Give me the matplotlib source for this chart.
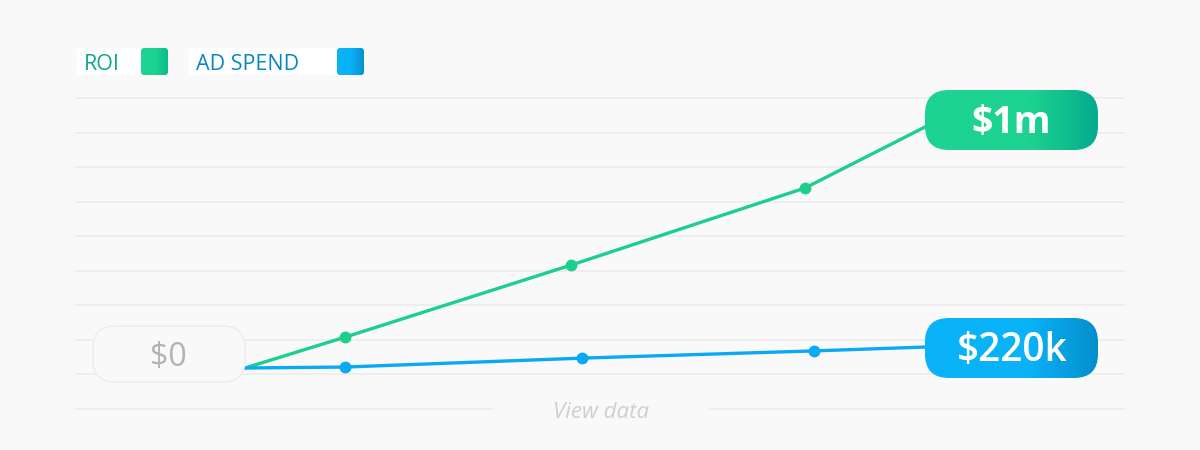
import matplotlib
matplotlib.use("Agg")
import matplotlib.pyplot as plt
import numpy as np
from matplotlib.patches import FancyBboxPatch

plt.rcParams["font.family"] = ["Open Sans", "DejaVu Sans"]

# values ($k), x in weeks-ish steps
roi_x = [0, 1.0, 3.26, 5.6, 6.8]
roi = [0, 128, 427, 747, 1000]
spend_x = [0, 1.0, 3.37, 5.69, 6.8]
spend = [0, 4, 41, 71, 87]
series_names = ["ROI", "AD SPEND"]
end_labels = ["$1m", "$220k"]
start_label = "$0"

green = "#1ccf8c"
blue = "#0aa9f3"
bg = "#f9f9f9"

fig = plt.figure(figsize=(12, 4.5), dpi=100)
fig.patch.set_facecolor(bg)

ax = fig.add_axes([0, 0, 1, 1])
ax.set_facecolor(bg)
ax.set_xlim(-2.45, 9.55)
ax.set_ylim(-340.2, 1527.0)
for s in ax.spines.values():
    s.set_visible(False)
ax.set_xticks([])
ax.set_yticks([])

# grid lines
grid_vals = np.linspace(-170, 1120, 10)
for i, g in enumerate(grid_vals):
    if i == 0:
        ax.hlines(g, -1.7, 2.48, color="#ececec", lw=1.2, zorder=1)
        ax.hlines(g, 4.63, 8.8, color="#ececec", lw=1.2, zorder=1)
    else:
        ax.hlines(g, -1.7, 8.8, color="#ececec", lw=1.2, zorder=1)

ax.plot(roi_x, roi, color=green, lw=2.4, marker="o", ms=7.5,
        markevery=[1, 2, 3], solid_capstyle="round", zorder=3)
ax.plot(spend_x, spend, color=blue, lw=2.4, marker="o", ms=7.5,
        markevery=[1, 2, 3], solid_capstyle="round", zorder=3)

# decoration layer in pixel coords
deco = fig.add_axes([0, 0, 1, 1], zorder=5)
deco.set_xlim(0, 1200)
deco.set_ylim(450, 0)
deco.axis("off")
deco.patch.set_alpha(0)


def grad_box(x0, y0, w, h, c1, c2, r, split=0.6):
    p = FancyBboxPatch((x0, y0), w, h, boxstyle=f"round,pad=0,rounding_size={r}",
                       lw=0, fc="none")
    deco.add_patch(p)
    n = 200
    t = np.linspace(0, 1, n)
    t = np.clip((t - split) / (1 - split), 0, 1)
    a = np.array(matplotlib.colors.to_rgb(c1))
    b = np.array(matplotlib.colors.to_rgb(c2))
    img = a[None, :] * (1 - t[:, None]) + b[None, :] * t[:, None]
    im = deco.imshow(img[None, :, :], extent=(x0, x0 + w, y0 + h, y0),
                     aspect="auto", zorder=6, interpolation="bilinear")
    im.set_clip_path(p)


# end labels
grad_box(925, 90, 173, 60, "#1dd391", "#05ab8e", 24)
deco.text(1011, 123, end_labels[0], color="white", fontsize=27, fontweight="bold",
          ha="center", va="center", zorder=7)
grad_box(925, 318, 173, 60, "#0ab2f7", "#058ecb", 24)
deco.text(1012, 351, end_labels[1], color="white", fontsize=28, fontweight="semibold",
          ha="center", va="center", zorder=7)

# start label
p0 = FancyBboxPatch((93, 326), 152, 56, boxstyle="round,pad=0,rounding_size=22",
                    lw=1.2, ec="#eeeeee", fc=bg, zorder=6)
deco.add_patch(p0)
deco.text(168, 357, start_label, color="#b3b3b3", fontsize=23,
          ha="center", va="center", zorder=7)

# legend
leg = [(77, 91, 141, "#0fa88a", "#1dd391", "#0cbb8a"),
       (189, 175, 337, "#0a86c4", "#0ab2f7", "#0690cf")]
for (x0, w, sq, tc, c1, c2), name in zip(leg, series_names):
    deco.add_patch(FancyBboxPatch((x0, 48), w, 27, boxstyle="round,pad=0,rounding_size=3",
                                  lw=0, fc="white", zorder=6))
    deco.text(x0 + 7, 64, name, color=tc, fontsize=15.5, ha="left", va="center", zorder=7)
    grad_box(sq, 48, 27, 27, c1, c2, 3, split=0.5)

deco.text(601, 412, "View data", color="#cfcfcf", fontsize=16, fontstyle="italic",
          ha="center", va="center", zorder=7)

fig.savefig("out.png", dpi=100, facecolor=bg)
